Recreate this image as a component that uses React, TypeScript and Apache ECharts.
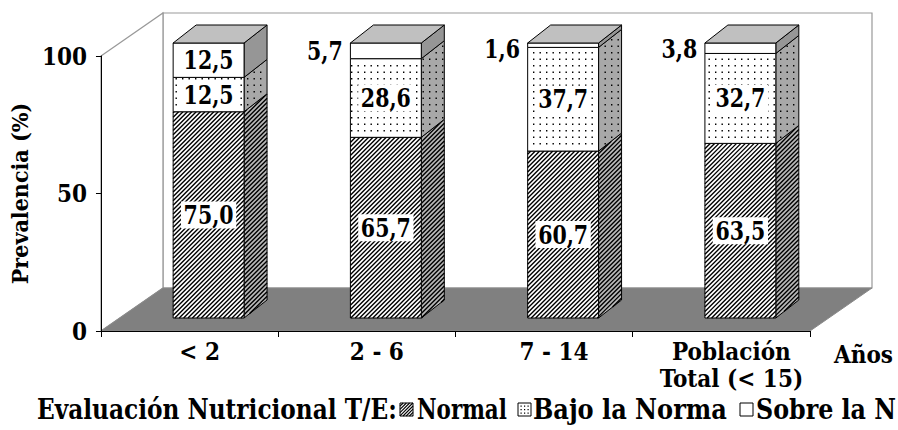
import React, { useEffect, useRef } from "react";
import * as echarts from "echarts";

const categories = ["< 2", "2 - 6", "7 - 14", "Población\nTotal (< 15)"];
const normal = [75.0, 65.7, 60.7, 63.5];
const bajo = [12.5, 28.6, 37.7, 32.7];
const sobre = [12.5, 5.7, 1.6, 3.8];
const seriesNames = ["Normal", "Bajo la Norma", "Sobre la Norma"];
const legendLabels = ["Normal", "Bajo la Norma", "Sobre la N"];
const legendTitle = "Evaluación Nutricional T/E:";
const yMin = 0;
const yMax = 100;
const yInterval = 50;

const FONT = "'DejaVu Serif Condensed', 'DejaVu Serif'";

// 3D geometry (pixels)
const WALL_DX = 62;
const WALL_DY = -43;
const BAR_OX = 19;
const BAR_OY = -13;
const BAR_DX = 23;
const BAR_DY = -18;

type Pt = [number, number];

let measureCtx: CanvasRenderingContext2D | null = null;
function measure(text: string, font: string): number {
  if (!measureCtx) measureCtx = document.createElement("canvas").getContext("2d");
  if (!measureCtx) return text.length * 14;
  measureCtx.font = font;
  return measureCtx.measureText(text).width;
}

function hatchPath(poly: Pt[], step: number): string {
  const sums = poly.map((p) => p[0] + p[1]);
  const cmin = Math.min(...sums);
  const cmax = Math.max(...sums);
  let d = "";
  for (let c = Math.ceil(cmin / step) * step; c <= cmax; c += step) {
    const pts: Pt[] = [];
    for (let k = 0; k < poly.length; k++) {
      const a = poly[k];
      const b = poly[(k + 1) % poly.length];
      const fa = a[0] + a[1] - c;
      const fb = b[0] + b[1] - c;
      if ((fa <= 0 && fb >= 0) || (fa >= 0 && fb <= 0)) {
        if (fa === fb) continue;
        const t = fa / (fa - fb);
        pts.push([a[0] + (b[0] - a[0]) * t, a[1] + (b[1] - a[1]) * t]);
      }
    }
    if (pts.length >= 2) {
      pts.sort((p, q) => p[0] - q[0]);
      const p = pts[0];
      const q = pts[pts.length - 1];
      if (q[0] - p[0] > 0.2) {
        d += `M${p[0].toFixed(2)} ${p[1].toFixed(2)}L${q[0].toFixed(2)} ${q[1].toFixed(2)}`;
      }
    }
  }
  return d;
}

function insideConvex(poly: Pt[], x: number, y: number, margin: number): boolean {
  let sign = 0;
  for (let k = 0; k < poly.length; k++) {
    const a = poly[k];
    const b = poly[(k + 1) % poly.length];
    const ex = b[0] - a[0];
    const ey = b[1] - a[1];
    const len = Math.hypot(ex, ey) || 1;
    const cr = (ex * (y - a[1]) - ey * (x - a[0])) / len;
    if (Math.abs(cr) < margin) return false;
    const s = cr > 0 ? 1 : -1;
    if (sign === 0) sign = s;
    else if (s !== sign) return false;
  }
  return true;
}

function dotPath(poly: Pt[], sx: number, sy: number, size: number): string {
  const xs = poly.map((p) => p[0]);
  const ys = poly.map((p) => p[1]);
  const minX = Math.min(...xs);
  const maxX = Math.max(...xs);
  const minY = Math.min(...ys);
  const maxY = Math.max(...ys);
  let d = "";
  for (let gy = Math.ceil(minY / sy) * sy; gy <= maxY; gy += sy) {
    for (let gx = Math.ceil(minX / sx) * sx; gx <= maxX; gx += sx) {
      if (insideConvex(poly, gx + size / 2, gy + size / 2, 1.2)) {
        d += `M${gx.toFixed(2)} ${gy.toFixed(2)}h${size}v${size}h${-size}Z`;
      }
    }
  }
  return d;
}

function fmt(v: number): string {
  return v.toFixed(1).replace(".", ",");
}

const segments = [
  { name: seriesNames[0], values: normal, kind: "hatch", sideBg: "#b8b8b8" },
  { name: seriesNames[1], values: bajo, kind: "dots", sideBg: "#a8a8a8" },
  { name: seriesNames[2], values: sobre, kind: "plain", sideBg: "#969696" },
];

function makeFace(children: any[], poly: Pt[], bg: string, kind: string) {
  children.push({ type: "polygon", shape: { points: poly }, style: { fill: bg, stroke: "none" } });
  if (kind === "hatch") {
    const d = hatchPath(poly, 4.4);
    if (d) children.push({ type: "path", shape: { pathData: d }, style: { fill: "none", stroke: "#000", lineWidth: 1.4 } });
  } else if (kind === "dots") {
    const d = dotPath(poly, 6.5, 6.5, 1.4);
    if (d) children.push({ type: "path", shape: { pathData: d }, style: { fill: "#000", stroke: "none" } });
  }
  children.push({ type: "polygon", shape: { points: poly }, style: { fill: "none", stroke: "#000", lineWidth: 1 } });
}

const LABEL_SIZE = 26;
const LABEL_FONT = `bold ${LABEL_SIZE}px ${FONT}`;

function makeBarRender(si: number, labelScale: number) {
  return (params: any, api: any) => {
    const i = api.value(0);
    const a = api.value(1);
    const b = api.value(2);
    const v = api.value(3);
    const band = api.size([1, 0])[0];
    const bw = band * 0.4;
    const pb = api.coord([i, a]);
    const pt = api.coord([i, b]);
    const x0 = pb[0] - bw / 2 + BAR_OX;
    const x1 = pb[0] + bw / 2 + BAR_OX;
    const bot = pb[1] + BAR_OY;
    const top = pt[1] + BAR_OY;
    const seg = segments[si];
    const children: any[] = [];
    const front: Pt[] = [[x0, top], [x1, top], [x1, bot], [x0, bot]];
    const side: Pt[] = [[x1, top], [x1 + BAR_DX, top + BAR_DY], [x1 + BAR_DX, bot + BAR_DY], [x1, bot]];
    makeFace(children, side, seg.sideBg, seg.kind);
    makeFace(children, front, "#ffffff", seg.kind);
    if (si === segments.length - 1) {
      const topFace: Pt[] = [[x0, top], [x1, top], [x1 + BAR_DX, top + BAR_DY], [x0 + BAR_DX, top + BAR_DY]];
      makeFace(children, topFace, "#c0c0c0", "plain");
    }
    const h = bot - top;
    const inside = h >= 30;
    const cx = (x0 + x1) / 2;
    const cy = (top + bot) / 2;
    children.push({
      type: "text",
      x: inside ? cx : x0 - 5,
      y: inside ? cy : Math.max(cy, top + 6),
      scaleX: labelScale,
      z2: 20,
      style: {
        text: fmt(v),
        x: 0,
        y: 0,
        align: inside ? "center" : "right",
        verticalAlign: "middle",
        fontFamily: FONT,
        fontWeight: "bold",
        fontSize: LABEL_SIZE,
        fill: "#000",
        backgroundColor: inside ? "#ffffff" : "transparent",
        padding: [1, 3, 0, 3],
        lineHeight: 26,
      },
    });
    return { type: "group", children };
  };
}

function wallsRender(params: any) {
  const cs = params.coordSys;
  const L = cs.x;
  const R = cs.x + cs.width;
  const T = cs.y;
  const B = cs.y + cs.height;
  const wallStroke = "#999999";
  return {
    type: "group",
    children: [
      {
        type: "polygon",
        shape: { points: [[L + WALL_DX, T + WALL_DY], [R + WALL_DX, T + WALL_DY], [R + WALL_DX, B + WALL_DY], [L + WALL_DX, B + WALL_DY]] },
        style: { fill: "#ffffff", stroke: wallStroke, lineWidth: 1.2 },
      },
      {
        type: "polygon",
        shape: { points: [[L, T], [L + WALL_DX, T + WALL_DY], [L + WALL_DX, B + WALL_DY], [L, B]] },
        style: { fill: "#ffffff", stroke: wallStroke, lineWidth: 1.2 },
      },
      {
        type: "polygon",
        shape: { points: [[L, B], [L + WALL_DX, B + WALL_DY], [R + WALL_DX, B + WALL_DY], [R, B]] },
        style: { fill: "#808080", stroke: "#8a8a8a", lineWidth: 1 },
      },
    ],
  };
}

function buildSeries(labelScale: number) {
  const base = categories.map(() => 0);
  const out: any[] = [
    {
      type: "custom",
      name: "walls",
      coordinateSystem: "cartesian2d",
      clip: false,
      silent: true,
      z: -1,
      data: [[0, 0]],
      renderItem: wallsRender,
    },
  ];
  segments.forEach((seg, si) => {
    const data = seg.values.map((v, i) => [i, base[i], base[i] + v, v]);
    seg.values.forEach((v, i) => {
      base[i] += v;
    });
    out.push({
      type: "custom",
      name: seg.name,
      coordinateSystem: "cartesian2d",
      clip: false,
      z: 3,
      encode: { x: 0, y: 2 },
      data,
      renderItem: makeBarRender(si, labelScale),
    });
  });
  return out;
}

function legendIcon(x: number, y: number, kind: string): any[] {
  const s = 13;
  const els: any[] = [
    { type: "rect", shape: { x, y, width: s, height: s }, style: { fill: "#fff", stroke: "none" } },
  ];
  if (kind === "hatch") {
    const step = 3.2;
    for (let c = step; c < 2 * s; c += step) {
      const xa = Math.max(0, c - s);
      const xb = Math.min(s, c);
      els.push({
        type: "line",
        shape: { x1: x + xa, y1: y + (c - xa), x2: x + xb, y2: y + (c - xb) },
        style: { stroke: "#000", lineWidth: 1.1 },
      });
    }
  } else if (kind === "dots") {
    for (let yy = 2.5; yy < s - 1; yy += 3.5) {
      for (let xx = 2.5; xx < s - 1; xx += 3.5) {
        els.push({ type: "rect", shape: { x: x + xx, y: y + yy, width: 1.2, height: 1.2 }, style: { fill: "#000" } });
      }
    }
  }
  els.push({ type: "rect", shape: { x, y, width: s, height: s }, style: { fill: "none", stroke: "#000", lineWidth: 1 } });
  return els;
}

function buildLegend() {
  const LY = 409;
  const size = 27;
  const font = `bold ${size}px ${FONT}`;
  const kinds = ["hatch", "dots", "plain"];
  const iconX = [400, 518, 740];
  const texts = [legendTitle, ...legendLabels];
  const textX = [37, 417, 533, 756];
  const textW = [360, 90, 194, 140];
  const els: any[] = [];
  texts.forEach((t, k) => {
    const w = measure(t, font);
    const sc = Math.min(1, textW[k] / (w || 1));
    els.push({
      type: "text",
      x: textX[k],
      y: LY,
      scaleX: sc,
      style: { text: t, fontFamily: FONT, fontWeight: "bold", fontSize: size, fill: "#000", align: "left", verticalAlign: "middle" },
    });
  });
  kinds.forEach((kind, k) => {
    els.push({ type: "group", children: legendIcon(iconX[k], LY - 6, kind) });
  });
  return els;
}

export default function App() {
  const ref = useRef<HTMLDivElement>(null);
  useEffect(() => {
    document.body.style.margin = "0";
    const chart = echarts.init(ref.current as HTMLDivElement, null, { renderer: "svg" });
    const labelScale = Math.min(1, 50 / (measure("75,0", LABEL_FONT) || 50));
    const axisFont = { fontFamily: FONT, fontWeight: "bold" as const, fontSize: 24, color: "#000" };
    chart.setOption({
      animation: false,
      backgroundColor: "#ffffff",
      grid: { left: 93, right: 88, top: 56, bottom: 99, containLabel: false },
      xAxis: {
        type: "category",
        data: categories,
        axisLine: { show: true, lineStyle: { color: "#000", width: 1 } },
        axisTick: { show: true, length: 6, lineStyle: { color: "#000" } },
        axisLabel: { ...axisFont, margin: 7, lineHeight: 27, padding: [0, 0, 0, 20], interval: 0 },
        splitLine: { show: false },
        name: "Años",
        nameLocation: "end",
        nameGap: 24,
        nameTextStyle: { ...axisFont, align: "left", verticalAlign: "top", padding: [11, 0, 0, 0] },
      },
      yAxis: {
        type: "value",
        min: yMin,
        max: yMax,
        interval: yInterval,
        axisLine: { show: true, lineStyle: { color: "#000", width: 1 } },
        axisTick: { show: true, length: 5, lineStyle: { color: "#000" } },
        axisLabel: { ...axisFont, margin: 14 },
        splitLine: { show: false },
        name: "Prevalencia (%)",
        nameLocation: "middle",
        nameGap: 57,
        nameTextStyle: { ...axisFont, fontSize: 23 },
      },
      series: buildSeries(labelScale),
      graphic: buildLegend(),
    });
    return () => chart.dispose();
  }, []);
  return <div ref={ref} style={{ width: 898, height: 430 }} />;
}
